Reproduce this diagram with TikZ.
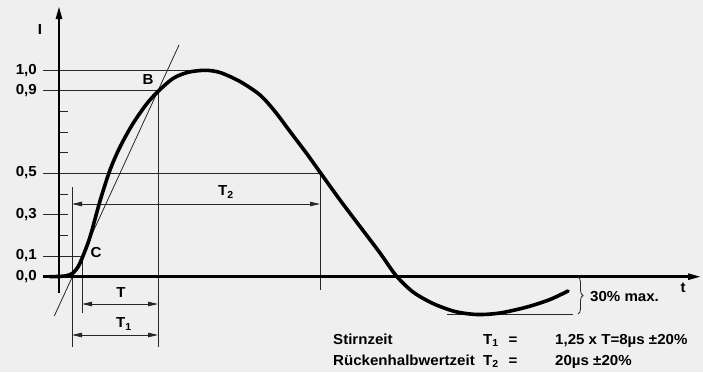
\documentclass[tikz,border=0pt]{standalone}
\usepackage{fontspec}
\setmainfont{Liberation Sans}[FakeStretch=1.04]
\usetikzlibrary{arrows.meta,decorations.pathreplacing}
\definecolor{bgc}{RGB}{239,239,239}
\definecolor{thin}{RGB}{40,40,40}
\begin{document}
\begin{tikzpicture}[x=1pt,y=-1pt,
  font=\bfseries\fontsize{14.5}{16}\selectfont,
  thinline/.style={line width=0.8pt,draw=thin},
  axisline/.style={line width=2.5pt,-{Triangle[length=13pt,width=6pt]}},
  dimarrow/.style={line width=0.8pt,draw=thin,{Triangle[length=10pt,width=4.5pt]}-{Triangle[length=10pt,width=4.5pt]}},
  lbl/.style={inner sep=0pt}]
\fill[bgc] (0,0) rectangle (703,372);
\useasboundingbox (0,0) rectangle (703,372);

% key coordinates
\coordinate (B) at (158,90.7);
\coordinate (C) at (82,256);
\coordinate (H) at (320,173);
\coordinate (P) at (205,70.7);

% horizontal reference lines
\draw[thinline] (43,70.7) coordinate (h10) -- (P);
\draw[thinline] (43,90.7) coordinate (h09) -- (B);
\draw[thinline] (43,173) coordinate (h05) -- (H);
\draw[thinline] (43,214.3) coordinate (h03a) -- (68,214.3) coordinate (h03b);
\draw[thinline] (43,256) coordinate (h01) -- (C);
\foreach \yy in {111.7,132.3,152.7,194,235}
  \draw[thinline] (59,\yy) -- (68,\yy);

% vertical reference lines
\draw[thinline] (72,187) coordinate (va) -- (72,347) coordinate (vb);
\draw[thinline] (C) -- (82,313) coordinate (vc);
\draw[thinline] (B) -- (158,347) coordinate (vd);
\draw[thinline] (H) -- (320,290) coordinate (ve);

% tangent
\draw[thinline] (54.3,316) coordinate (ta) -- (179,45) coordinate (tb);

% min line
\draw[thinline] (447,314) coordinate (ma) -- (573,314) coordinate (mb);

% dimension arrows
\draw[dimarrow] (72,204) coordinate (t2a) -- (320,204) coordinate (t2b);
\draw[dimarrow] (82,304) coordinate (ta1) -- (158,304) coordinate (tb1);
\draw[dimarrow] (72,335) coordinate (t1a) -- (158,335) coordinate (t1b);

% axes
\draw[axisline] (59,293) coordinate (ya) -- (59,6) coordinate (yb);
\draw[axisline] (43,276.7) coordinate (xa) -- (701,276.7) coordinate (xb);

% curve
\draw[line width=3.6pt,line cap=round,line join=round] plot[smooth,tension=0.5] coordinates {
 (50,276.7) (60,276.4) (67,275.6) (73,273) (78,267) (82,258.5) (90,237) (100,201)
 (110,170) (120,147) (133,123.5) (147,103.5) (158,91.5) (173,78.5) (188,72.3) (205,70.3)
 (220,72.5) (240,81.5) (260,95) (275,111.5) (290,131.5) (307,154) (322,175) (340,200)
 (360,226.5) (380,253) (396,275.5) (413,292) (433,303.5) (455,311.5) (477,314.5)
 (500,313) (527,307) (550,299.5) (568,291)};

% brace
\draw[line width=0.8pt,draw=thin,decorate,decoration={brace,amplitude=5pt}] (578,277) -- (578,314);

% labels
\node[lbl] (lI) at (40,30) {I};
\node[lbl,anchor=east] (l10) at (37,70.7) {1,0};
\node[lbl,anchor=east] (l09) at (37,90.7) {0,9};
\node[lbl,anchor=east] (l05) at (37,173) {0,5};
\node[lbl,anchor=east] (l03) at (37,214.3) {0,3};
\node[lbl,anchor=east] (l01) at (37,256) {0,1};
\node[lbl,anchor=east] (l00) at (37,277) {0,0};
\node[lbl] (lB) at (148,80) {B};
\node[lbl] (lC) at (96,253) {C};
\node[lbl] (lT2) at (226,192) {T\textsubscript{2}};
\node[lbl] (lT) at (121,293) {T};
\node[lbl] (lT1) at (124,324) {T\textsubscript{1}};
\node[lbl,anchor=west] (l30) at (590,297) {30\% max.};
\node[lbl] (lt) at (683,288) {t};

\node[lbl,anchor=base west] (s1) at (333,344) {Stirnzeit};
\node[lbl,anchor=base west] (s2) at (483,344) {T\textsubscript{1}};
\node[lbl,anchor=base] (s3) at (513,344) {=};
\node[lbl,anchor=base west] (s4) at (555,344) {1,25 x T=8µs ±20\%};
\node[lbl,anchor=base west] (r1) at (333,365) {Rückenhalbwertzeit};
\node[lbl,anchor=base west] (r2) at (483,365) {T\textsubscript{2}};
\node[lbl,anchor=base] (r3) at (513,365) {=};
\node[lbl,anchor=base west] (r4) at (555,365) {20µs ±20\%};
\end{tikzpicture}
\end{document}
